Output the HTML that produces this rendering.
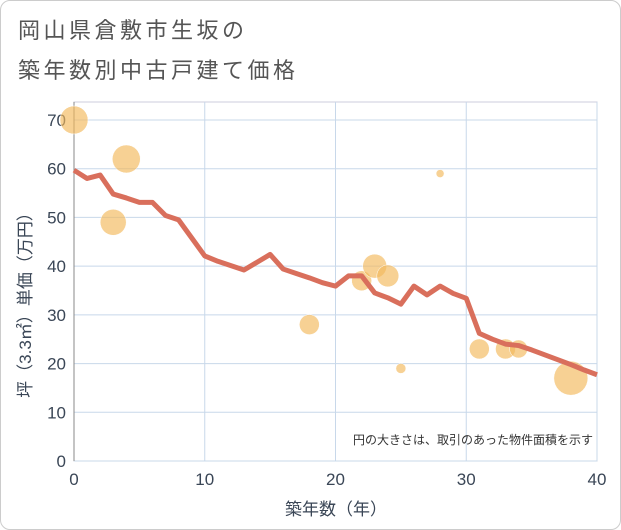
<!DOCTYPE html>
<html><head><meta charset="utf-8"><style>
body{margin:0;background:#fff;font-family:"Liberation Sans","Noto Sans CJK JP",sans-serif}
#wrap{position:relative;width:619px;height:528px;border:1px solid #ccc;border-radius:10px;overflow:hidden}
h1{position:absolute;left:17px;top:10px;margin:0;font-weight:normal;font-size:22px;line-height:40px;color:#555;letter-spacing:3.5px}
svg{position:absolute;left:0;top:0}
</style></head><body>
<div id="wrap">
<h1>岡山県倉敷市生坂の<br>築年数別中古戸建て価格</h1>
<svg id="c" width="621" height="530"></svg>
</div>
<script>
const years=[0,1,2,3,4,5,6,7,8,9,10,11,12,13,14,15,16,17,18,19,20,21,22,23,24,25,26,27,28,29,30,31,32,33,34,35,36,37,38,39,40];
const avgPrice=[59.7,58,58.7,54.8,54,53.1,53.1,50.4,49.5,45.8,42.1,41,40.1,39.2,40.8,42.4,39.4,38.5,37.6,36.6,35.9,38,38,34.5,33.5,32.2,35.9,34.1,35.9,34.4,33.4,26.2,25,24,23.7,22.8,21.8,20.8,19.8,18.7,17.7];
const bubbleX=[0,4,3,18,22,23,24,25,28,31,33,34,38];
const bubbleY=[70,62,49,28,37,40,38,19,59,23,23,23,17];
const bubbleR=[14,14,13,10,10,12,11,5,4,10,10,9,17];
const xTicks=[0,10,20,30,40];
const yTicks=[0,10,20,30,40,50,60,70];
const X0=73,X1=596,Y0=460,Y1=119;
const sx=v=>X0+(X1-X0)*v/40, sy=v=>Y0-(Y0-Y1)*v/70;
const s=document.getElementById('c'),NS='http://www.w3.org/2000/svg';
function mk(t,a,p){const e=document.createElementNS(NS,t);for(const k in a)e.setAttribute(k,a[k]);(p||s).appendChild(e);return e;}
let r=mk('rect',{x:X0,y:101,width:X1-X0,height:Y0-101,fill:'none',stroke:'#ccd',});


yTicks.forEach(v=>{let l=mk('line',{x1:X0,x2:X1,y1:sy(v),y2:sy(v),stroke:'#c8d8ea'});


let t=mk('text',{x:X0-8,y:sy(v)+6,'text-anchor':'end','font-size':17,fill:'#3a4656'});t.textContent=v;

});
xTicks.forEach(v=>{let l=mk('line',{x1:sx(v),x2:sx(v),y1:101,y2:Y0,stroke:'#c8d8ea'});


let t=mk('text',{x:sx(v),y:484,'text-anchor':'middle','font-size':17,fill:'#3a4656'});t.textContent=v;

});
let ax=mk('line',{x1:X0,x2:X0,y1:101,y2:Y0,stroke:'#888'});


bubbleX.forEach((v,i)=>{let c=mk('circle',{cx:sx(v),cy:sy(bubbleY[i]),r:bubbleR[i],fill:'rgba(242,185,90,0.65)',stroke:'#fff','stroke-width':0.5});

});
let p=mk('polyline',{points:years.map((v,i)=>sx(v)+','+sy(avgPrice[i])).join(' '),fill:'none',stroke:'#d96f5c','stroke-width':5,'stroke-linejoin':'round'});


let n=mk('text',{x:592,y:443,'text-anchor':'end','font-size':12,fill:'#333'});n.textContent='円の大きさは、取引のあった物件面積を示す';


let xt=mk('text',{x:335,y:514,'text-anchor':'middle','font-size':17,fill:'#3a4656'});xt.textContent='築年数（年）';


let yt=mk('text',{x:0,y:0,'text-anchor':'middle','font-size':17,fill:'#3a4656',transform:'translate(30,300) rotate(-90)'});yt.textContent='坪（3.3㎡）単価（万円）';


</script>
</body></html>
